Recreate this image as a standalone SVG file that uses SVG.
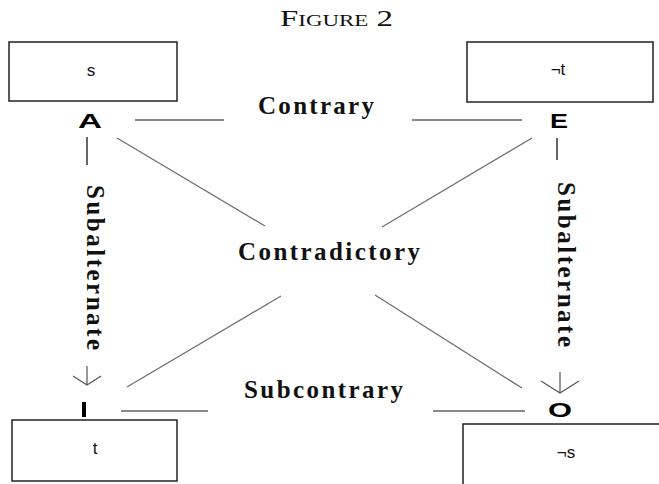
<svg xmlns="http://www.w3.org/2000/svg" width="659" height="484" viewBox="0 0 659 484">
<style>
.box{fill:#fff;stroke:#222;stroke-width:1.5}
.bt{font-family:"Liberation Sans",Arial,sans-serif;font-size:17px;fill:#111;text-anchor:middle}
.vx{font-family:"Liberation Sans",Arial,sans-serif;font-weight:bold;font-size:21px;fill:#000;text-anchor:middle}
.lbl{font-family:"Liberation Serif","Times New Roman",serif;font-weight:bold;font-size:25px;fill:#111;text-anchor:middle}
.hl{stroke:#8a8a8a;stroke-width:2;fill:none}
.dl{stroke:#707070;stroke-width:1.3;fill:none}
.vl{stroke:#333;stroke-width:1.5;fill:none}
.ar{stroke:#555;stroke-width:1.2;fill:none}
</style>
<rect width="659" height="484" fill="#fff"/>
<text x="336.5" y="26" font-family="'Liberation Serif','Times New Roman',serif" font-size="23" font-variant="small-caps" text-anchor="middle" textLength="113" lengthAdjust="spacingAndGlyphs" fill="#111">Figure 2</text>

<g id="connectors">
<line class="hl" x1="135" y1="120" x2="224" y2="120"/>
<line class="hl" x1="412" y1="120" x2="522" y2="120"/>
<line class="hl" x1="121" y1="411" x2="208" y2="411"/>
<line class="hl" x1="433" y1="411" x2="525" y2="411"/>
<line class="dl" x1="117" y1="138" x2="265" y2="226"/>
<line class="dl" x1="375" y1="295" x2="522" y2="388"/>
<line class="dl" x1="532" y1="138" x2="382" y2="227"/>
<line class="dl" x1="281" y1="296" x2="127" y2="387"/>
<line class="vl" x1="87" y1="137" x2="87" y2="165"/>
<line class="vl" x1="557" y1="138" x2="557" y2="160"/>
<path class="ar" d="M87 366 V385 M73 376 L87 385 L101 376"/>
<path class="ar" d="M560 372 V393 M541 381 L560 393 L579 381"/>
<text class="lbl" x="316" y="114" textLength="116" lengthAdjust="spacing">Contrary</text>
<text class="lbl" x="329" y="260" textLength="182" lengthAdjust="spacing">Contradictory</text>
<text class="lbl" x="323.5" y="398" textLength="159" lengthAdjust="spacing">Subcontrary</text>
<text class="lbl" transform="translate(87,267.5) rotate(90)" x="0" y="0" textLength="165" lengthAdjust="spacing">Subalternate</text>
<text class="lbl" transform="translate(558,264.5) rotate(90)" x="0" y="0" textLength="165" lengthAdjust="spacing">Subalternate</text>
</g>

<g id="node-A">
<rect class="box" x="9" y="42" width="168" height="59"/>
<text class="bt" x="91" y="76">s</text>
<text class="vx" x="90" y="128" textLength="24" lengthAdjust="spacingAndGlyphs">A</text>
</g>
<g id="node-E">
<rect class="box" x="467" y="42" width="186" height="60"/>
<text class="bt" x="558" y="75">¬t</text>
<text class="vx" x="559" y="128" textLength="18" lengthAdjust="spacingAndGlyphs">E</text>
</g>
<g id="node-I">
<rect class="box" x="12" y="420" width="165" height="61"/>
<text class="bt" x="95" y="454">t</text>
<rect x="82" y="402" width="4" height="15" fill="#000"/>
</g>
<g id="node-O">
<rect class="box" x="463" y="424" width="200" height="64"/>
<text class="bt" x="566" y="458">¬s</text>
<text class="vx" x="560" y="417" textLength="24" lengthAdjust="spacingAndGlyphs">O</text>
</g>
</svg>
